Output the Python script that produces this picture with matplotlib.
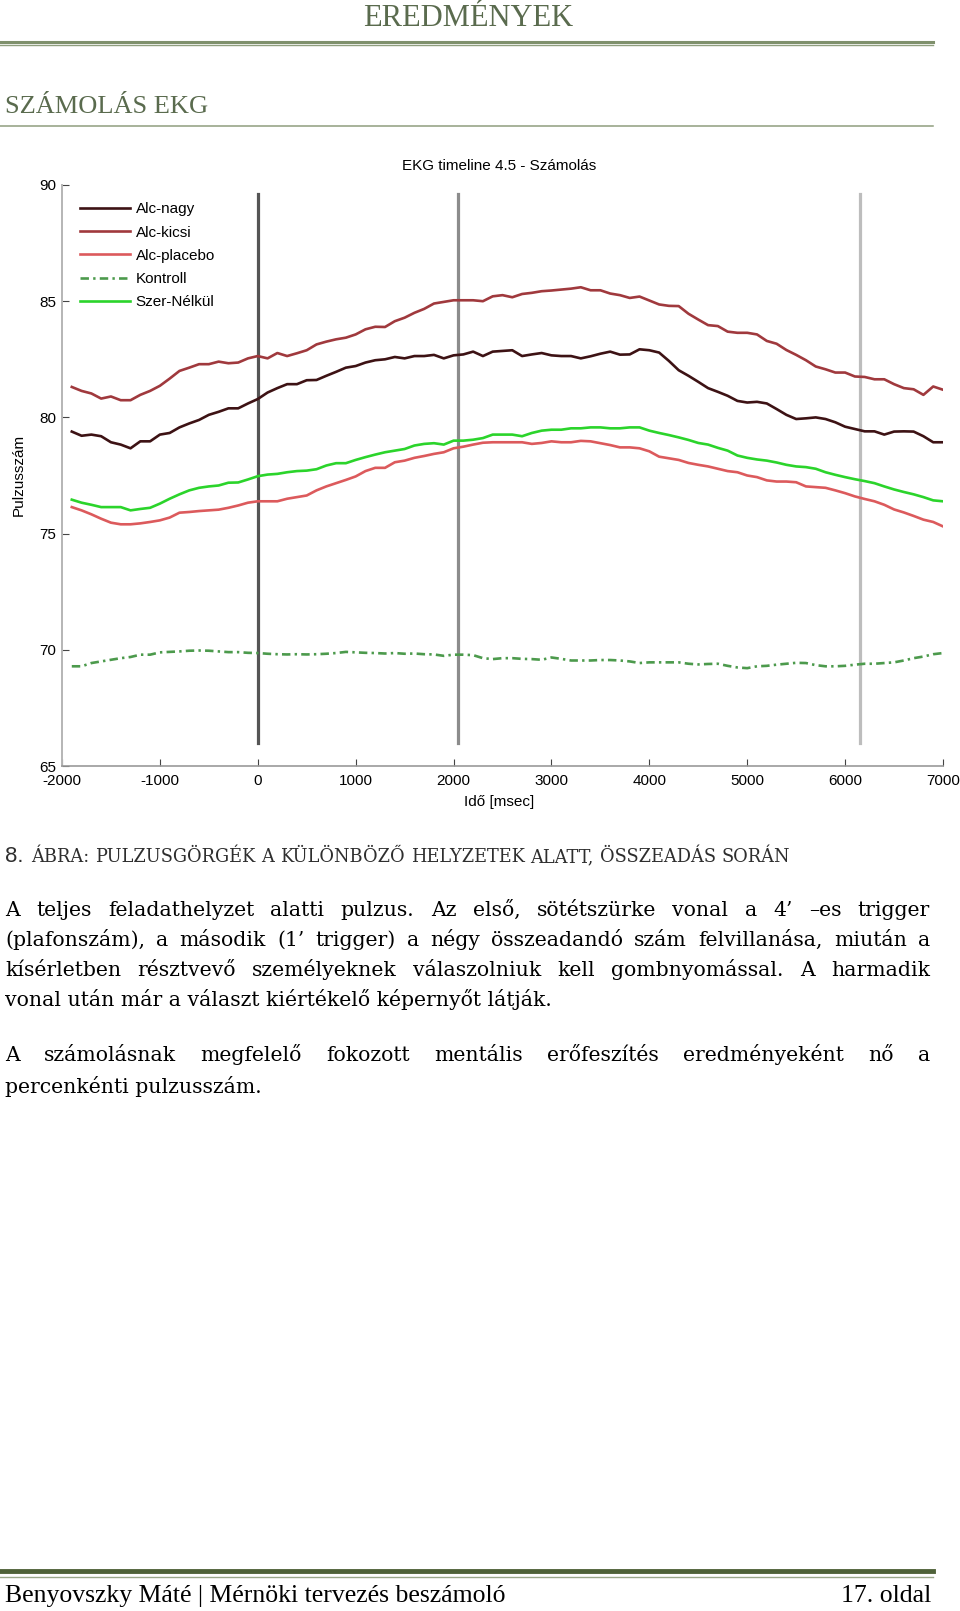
import numpy as np
import matplotlib
matplotlib.use('Agg')
import matplotlib.pyplot as plt

plt.rcParams['axes.unicode_minus'] = False

W, H = 960, 1611

# idő tengely (msec), 100 ms lépés
ido = np.arange(-1900, 7001, 100)

alc_nagy = [79.39, 79.21, 79.26, 79.19, 78.93, 78.83, 78.67, 78.97, 78.97, 79.26, 79.33, 79.57, 79.74, 79.89, 80.11, 80.24, 80.39, 80.39, 80.6, 80.79, 81.07, 81.26,
            81.43, 81.43, 81.6, 81.61, 81.79, 81.96, 82.14, 82.21, 82.36, 82.46, 82.5, 82.6, 82.54, 82.64, 82.64, 82.69, 82.54, 82.67, 82.71, 82.83, 82.64, 82.83, 82.86,
            82.89, 82.64, 82.71, 82.77, 82.67, 82.64, 82.64, 82.54, 82.63, 82.74, 82.83, 82.7, 82.71, 82.93, 82.89, 82.79, 82.43, 82.03, 81.79, 81.53, 81.26, 81.1, 80.93,
            80.71, 80.64, 80.67, 80.6, 80.36, 80.11, 79.93, 79.96, 80.0, 79.93, 79.79, 79.6, 79.5, 79.4, 79.4, 79.26, 79.39, 79.4, 79.39, 79.19, 78.93, 78.93]

alc_kicsi = [81.31, 81.14, 81.03, 80.81, 80.9, 80.74, 80.74, 80.97, 81.14, 81.36, 81.67, 82.0, 82.14, 82.29, 82.29, 82.4, 82.33, 82.36, 82.54, 82.64, 82.54, 82.77,
             82.64, 82.76, 82.89, 83.14, 83.26, 83.36, 83.43, 83.57, 83.79, 83.9, 83.89, 84.14, 84.29, 84.5, 84.67, 84.9, 84.97, 85.04, 85.04, 85.04, 85.0, 85.21, 85.26,
             85.17, 85.31, 85.36, 85.43, 85.46, 85.5, 85.54, 85.6, 85.47, 85.47, 85.33, 85.26, 85.14, 85.2, 85.03, 84.86, 84.8, 84.79, 84.46, 84.21, 83.97, 83.93, 83.69,
             83.64, 83.64, 83.57, 83.29, 83.17, 82.9, 82.69, 82.46, 82.19, 82.07, 81.93, 81.93, 81.76, 81.74, 81.64, 81.64, 81.43, 81.26, 81.21, 80.97, 81.33, 81.19]

alc_placebo = [76.14, 76.0, 75.83, 75.64, 75.47, 75.4, 75.4, 75.44, 75.5, 75.57, 75.69, 75.9, 75.93, 75.97, 76.0, 76.03, 76.11, 76.21, 76.33, 76.39, 76.39, 76.39,
               76.5, 76.57, 76.64, 76.86, 77.03, 77.17, 77.31, 77.46, 77.69, 77.83, 77.83, 78.07, 78.14, 78.26, 78.34, 78.43, 78.5, 78.67, 78.74, 78.83, 78.91, 78.93, 78.93,
               78.93, 78.93, 78.86, 78.9, 78.97, 78.93, 78.93, 78.99, 78.97, 78.89, 78.81, 78.71, 78.71, 78.67, 78.54, 78.31, 78.24, 78.17, 78.04, 77.96, 77.89, 77.79, 77.69,
               77.64, 77.5, 77.43, 77.29, 77.24, 77.24, 77.21, 77.03, 77.0, 76.97, 76.86, 76.74, 76.6, 76.49, 76.39, 76.24, 76.04, 75.91, 75.76, 75.6, 75.5, 75.31]

kontroll = [69.29, 69.29, 69.43, 69.5, 69.57, 69.64, 69.69, 69.79, 69.79, 69.89, 69.91, 69.93, 69.96, 69.97, 69.96, 69.93, 69.9, 69.9, 69.87, 69.86, 69.83, 69.81, 69.8,
            69.81, 69.8, 69.81, 69.83, 69.86, 69.91, 69.89, 69.87, 69.86, 69.84, 69.86, 69.83, 69.84, 69.81, 69.8, 69.74, 69.79, 69.79, 69.77, 69.64, 69.6, 69.64,
            69.64, 69.61, 69.6, 69.57, 69.67, 69.61, 69.54, 69.54, 69.54, 69.56, 69.56, 69.54, 69.5, 69.43, 69.46, 69.46, 69.46, 69.46, 69.4, 69.37, 69.39, 69.4,
            69.31, 69.24, 69.21, 69.29, 69.31, 69.36, 69.4, 69.44, 69.43, 69.34, 69.29, 69.29, 69.31, 69.36, 69.4, 69.4, 69.43, 69.46, 69.54, 69.64, 69.71, 69.81, 69.86]

szer_nelkul = [76.46, 76.33, 76.24, 76.14, 76.14, 76.14, 76.0, 76.06, 76.11, 76.29, 76.5, 76.69, 76.86, 76.97, 77.03, 77.07, 77.19, 77.2, 77.33, 77.47, 77.54, 77.57,
               77.64, 77.69, 77.71, 77.77, 77.93, 78.03, 78.03, 78.17, 78.29, 78.4, 78.5, 78.57, 78.64, 78.79, 78.86, 78.89, 78.83, 79.0, 79.0, 79.04, 79.11, 79.26, 79.26,
               79.26, 79.19, 79.33, 79.43, 79.47, 79.47, 79.53, 79.53, 79.57, 79.57, 79.53, 79.53, 79.57, 79.57, 79.43, 79.33, 79.24, 79.14, 79.03, 78.9, 78.83, 78.69, 78.57,
               78.36, 78.26, 78.19, 78.14, 78.06, 77.96, 77.89, 77.86, 77.79, 77.64, 77.53, 77.43, 77.34, 77.26, 77.17, 77.03, 76.9, 76.79, 76.69, 76.57, 76.43, 76.39]

# triggerek (függőleges vonalak)
trigger_ido = [0, 2050, 6150]
trigger_szin = ['#555555', '#8c8c8c', '#bdbdbd']
trigger_tartomany = [66.0, 89.6]

sorozatok = [
    ('Alc-nagy', alc_nagy, '#3d1214', '-'),
    ('Alc-kicsi', alc_kicsi, '#a0393d', '-'),
    ('Alc-placebo', alc_placebo, '#dc5a5c', '-'),
    ('Kontroll', kontroll, '#4c9a4c', (0, (3.2, 1.6, 0.9, 1.6))),
    ('Szer-Nélkül', szer_nelkul, '#2bd42b', '-'),
]

SANS = ['Liberation Sans', 'DejaVu Sans']
SERIF = ['DejaVu Serif']
HEAD = ['Liberation Serif', 'DejaVu Serif']
ZOLD = '#5a6b4e'


def fpos(x, y):
    return x / W, 1 - y / H


fig = plt.figure(figsize=(W / 100, H / 100), dpi=100)

# --- fejléc ---
fig.text(*fpos(468, 18), 'EREDMÉNYEK', family=HEAD, fontsize=22, color=ZOLD,
         ha='center', va='center')
fig.add_artist(plt.Line2D([0, 933 / W], [1 - 41.5 / H] * 2, color='#7f906c', lw=2.2))
fig.add_artist(plt.Line2D([0, 933 / W], [1 - 45 / H] * 2, color='#8f9e7e', lw=1.0))
fig.text(*fpos(5, 107), 'SZÁMOLÁS EKG', family=HEAD, fontsize=19, color=ZOLD,
         ha='left', va='center')
fig.add_artist(plt.Line2D([0, 933 / W], [1 - 125.5 / H] * 2, color='#8f9e7e', lw=1.1))

# --- diagram ---
ax = fig.add_axes([62 / W, 1 - 766 / H, (943 - 62) / W, (766 - 185) / H])
for t, c in zip(trigger_ido, trigger_szin):
    ax.plot([t, t], trigger_tartomany, color=c, lw=2.3, zorder=1)
for nev, ertek, szin, ls in sorozatok:
    ax.plot(ido, ertek, color=szin, lw=1.9, ls=ls, label=nev, zorder=3)

ax.set_xlim(-2000, 7000)
ax.set_ylim(65, 90)
ax.set_xticks(range(-2000, 7001, 1000))
ax.set_yticks(range(65, 91, 5))
for s in ['top', 'right']:
    ax.spines[s].set_visible(False)
ax.spines['left'].set_color('#b5b5b5')
ax.spines['left'].set_linewidth(1.4)
ax.spines['bottom'].set_color('#9a9a9a')
ax.spines['bottom'].set_linewidth(1.2)
ax.tick_params(direction='in', length=5, width=0.8, color='#444444', labelsize=11)
ax.tick_params(axis='x', pad=6)
ax.tick_params(axis='y', pad=4)
for lab in ax.get_xticklabels() + ax.get_yticklabels():
    lab.set_family(SANS)

leg = ax.legend(loc='upper left', bbox_to_anchor=(0.0204, 0.97), frameon=False,
                prop={'family': SANS, 'size': 11}, handlelength=3.3,
                handletextpad=0.35, labelspacing=0.6, borderpad=0, borderaxespad=0)

fig.text(*fpos(499, 166), 'EKG timeline 4.5 - Számolás', family=SANS, fontsize=11,
         ha='center', va='center')
fig.text(*fpos(499, 802), 'Idő [msec]', family=SANS, fontsize=11,
         ha='center', va='center')
fig.text(*fpos(18.5, 475), 'Pulzusszám', family=SANS, fontsize=11,
         ha='center', va='center', rotation=90)

# --- szöveg ---
renderer = fig.canvas.get_renderer()


def sor(szoveg, y, x0=5, x1=None, **kw):
    szavak = szoveg.split(' ')
    if x1 is None:
        fig.text(*fpos(x0, y), szoveg, ha='left', va='baseline', **kw)
        return
    tk = [fig.text(0, 0, s, ha='left', va='baseline', **kw) for s in szavak]
    sz = [t.get_window_extent(renderer).width for t in tk]
    res = (x1 - x0 - sum(sz)) / (len(szavak) - 1)
    x = x0
    for t, w in zip(tk, sz):
        t.set_position(fpos(x, y))
        x += w + res


fig.text(*fpos(5, 862), '8.', family=SANS, fontsize=16, color='#2e2e2e',
         ha='left', va='baseline')
sor('ÁBRA: PULZUSGÖRGÉK A KÜLÖNBÖZŐ HELYZETEK ALATT, ÖSSZEADÁS SORÁN', 862,
    x0=31, x1=790, family=SERIF, fontsize=12.8, color='#2e2e2e')

body = dict(family=SERIF, fontsize=14.7, color='black')
sor('A teljes feladathelyzet alatti pulzus. Az első, sötétszürke vonal a 4’ –es trigger', 916, x1=930, **body)
sor('(plafonszám), a második (1’ trigger) a négy összeadandó szám felvillanása, miután a', 946, x1=930, **body)
sor('kísérletben résztvevő személyeknek válaszolniuk kell gombnyomással. A harmadik', 976, x1=930, **body)
sor('vonal után már a választ kiértékelő képernyőt látják.', 1006, **body)
sor('A számolásnak megfelelő fokozott mentális erőfeszítés eredményeként nő a', 1061, x1=930, **body)
sor('percenkénti pulzusszám.', 1093, **body)

# --- lábléc ---
fig.add_artist(plt.Line2D([0, 933 / W], [1 - 1571 / H] * 2, color='#4f6239', lw=3.5))
fig.add_artist(plt.Line2D([0, 933 / W], [1 - 1576.5 / H] * 2, color='#9aa88a', lw=1.0))
fig.text(*fpos(5, 1596), 'Benyovszky Máté | Mérnöki tervezés beszámoló', family=HEAD,
         fontsize=18.5, ha='left', va='center')
fig.text(*fpos(931, 1596), '17. oldal', family=HEAD, fontsize=18.5, ha='right', va='center')

fig.savefig('out.png', dpi=100)
